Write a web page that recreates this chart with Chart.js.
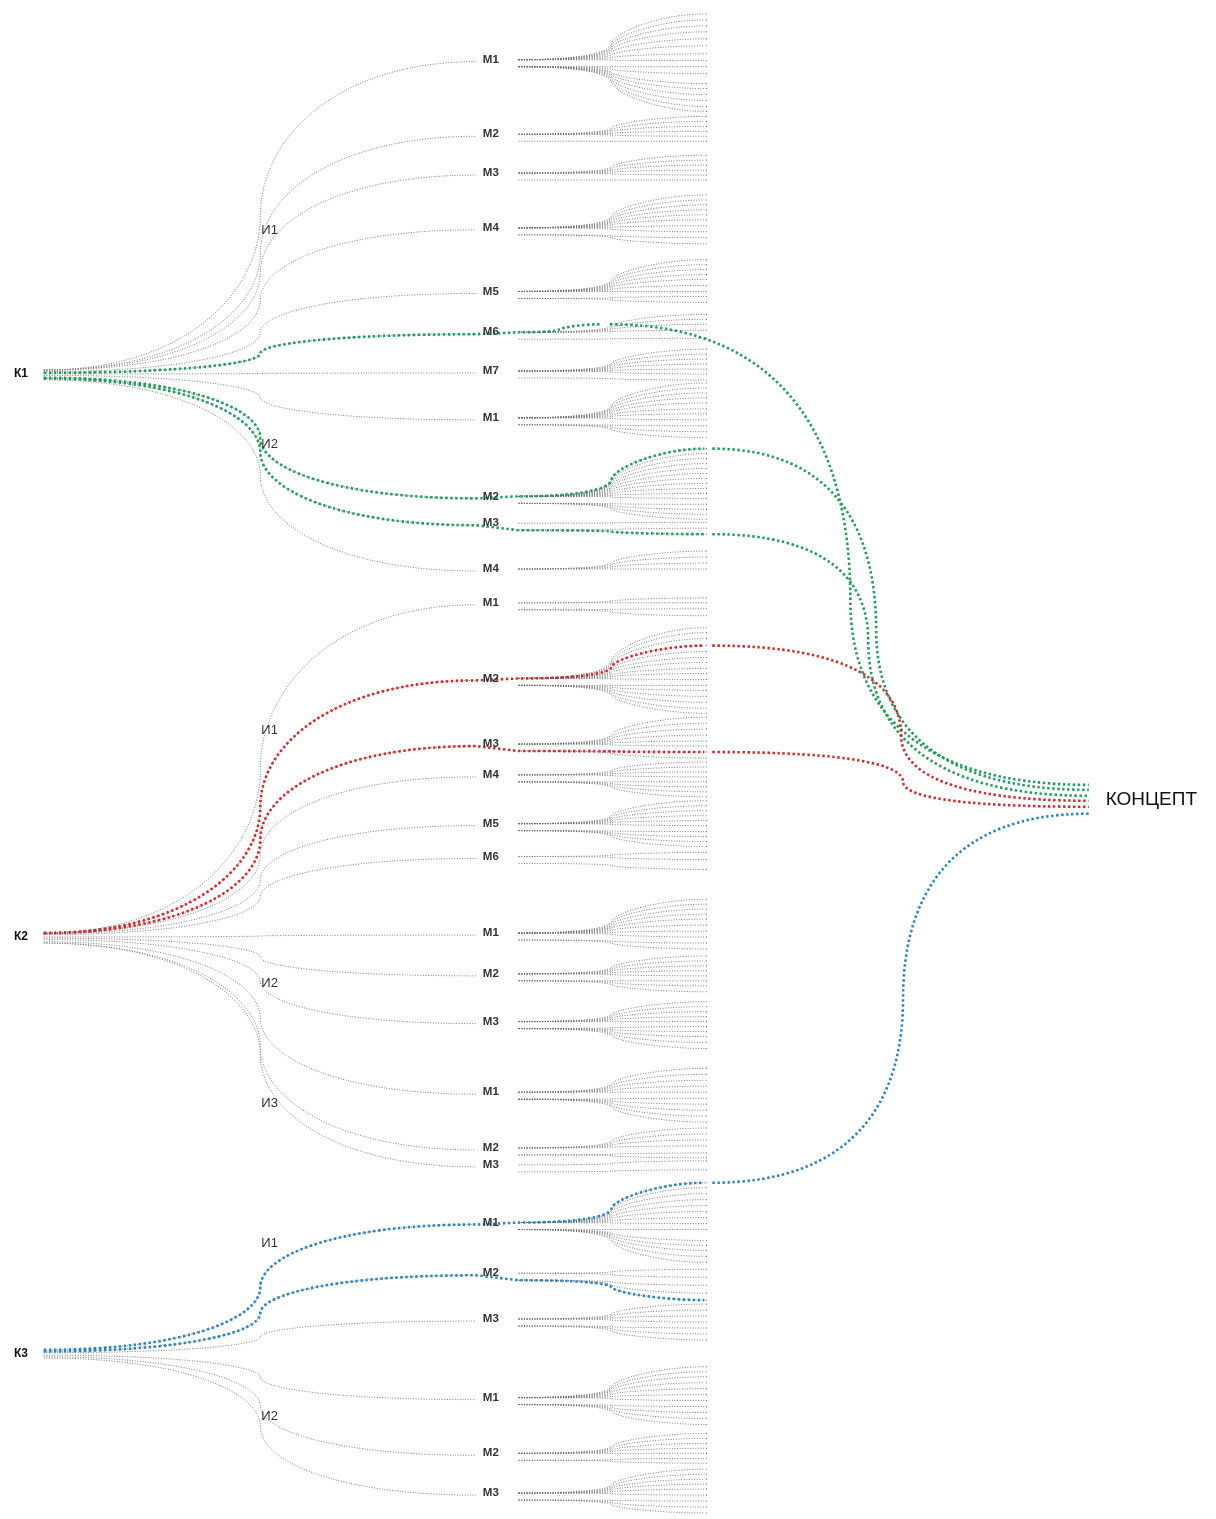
<!DOCTYPE html>
<html>
<head>
<meta charset="utf-8">
<script src="https://cdn.jsdelivr.net/npm/chart.js@4.4.1/dist/chart.umd.min.js"></script>
<style>
  html, body { margin: 0; background: #fff; }
  canvas { display: block; }
</style>
</head>
<body>
<canvas id="tree" width="1216" height="1519"></canvas>
<script>
// top level nodes
const kNames = ['К1', 'К2', 'К3'];
const kY = [372, 938, 1357];

// second level (И), parent = index into kNames
const iNames = ['И1', 'И2', 'И1', 'И2', 'И3', 'И1', 'И2'];
const iParent = [0, 0, 1, 1, 1, 2, 2];
const iY = [228, 443, 730, 985, 1105, 1246, 1420];

// third level (М), parent = index into iNames
const mNames = ['М1', 'М2', 'М3', 'М4', 'М5', 'М6', 'М7',
  'М1', 'М2', 'М3', 'М4',
  'М1', 'М2', 'М3', 'М4', 'М5', 'М6',
  'М1', 'М2', 'М3',
  'М1', 'М2', 'М3',
  'М1', 'М2', 'М3',
  'М1', 'М2', 'М3'];
const mParent = [0, 0, 0, 0, 0, 0, 0, 1, 1, 1, 1, 2, 2, 2, 2, 2, 2, 3, 3, 3, 4, 4, 4, 5, 5, 5, 6, 6, 6];
const mY = [56, 131, 170, 225, 289, 330, 369,
  416, 495, 522, 568,
  602, 678, 744, 775, 824, 857,
  934, 975, 1023,
  1094, 1150, 1167,
  1225, 1276, 1322,
  1401, 1457, 1497];

// leaves of every М (end positions)
const leafY = [
  [10, 16, 22, 28, 35, 42, 50, 57, 63, 70, 80, 85, 91, 97, 103, 108],
  [113, 118, 123, 128, 133, 138],
  [152, 157, 162, 167, 172, 177],
  [192, 197, 202, 207, 212, 217, 223, 229, 235, 241],
  [257, 262, 267, 272, 277, 283, 289, 294, 300],
  [312, 317, 322, 328, 336],
  [347, 352, 357, 362, 367, 372, 378],
  [381, 386, 391, 396, 401, 407, 412, 418, 424, 430, 436],
  [447, 452, 457, 462, 467, 472, 477, 482, 487, 492, 497, 503, 508, 513, 518],
  [521, 527, 533],
  [550, 556, 562, 568],
  [597, 602, 608, 615],
  [627, 632, 638, 645, 651, 657, 662, 668, 673, 679, 685, 690, 696, 702, 708, 713],
  [717, 723, 729, 735, 741, 746, 752, 758],
  [762, 767, 772, 777, 782, 787, 792, 797],
  [801, 806, 811, 816, 821, 826, 832, 837, 842, 847],
  [853, 860, 870],
  [900, 905, 910, 915, 920, 926, 932, 938, 944, 950],
  [957, 962, 967, 972, 977, 982, 987, 993],
  [1003, 1008, 1013, 1018, 1023, 1028, 1033, 1038, 1044, 1050],
  [1070, 1076, 1082, 1088, 1094, 1100, 1106, 1112, 1118, 1124],
  [1130, 1136, 1142, 1148, 1155, 1160],
  [1163, 1172],
  [1185, 1190, 1196, 1202, 1208, 1214, 1220, 1226, 1232, 1243, 1248, 1253, 1259, 1265],
  [1272, 1280, 1288, 1296, 1303],
  [1307, 1313, 1319, 1325, 1331, 1337, 1343],
  [1370, 1375, 1380, 1386, 1392, 1398, 1404, 1410, 1416, 1422, 1428],
  [1437, 1442, 1447, 1452, 1457, 1462, 1467],
  [1473, 1478, 1483, 1488, 1493, 1499, 1505, 1511, 1517]
];

// highlighted chains: М index, chosen leaf, end row at КОНЦЕПТ (null = stops at leaf)
const conceptLabel = 'КОНЦЕПТ';
const conceptY = 800;
const pathM = [5, 8, 9, 12, 13, 23, 24];
const pathLeaf = [322, 447, 533, 645, 752, 1185, 1303];
const pathEnd = [785, 790, 796, 801, 807, 814, null];

// styling / layout
const pathColors = ['#1e9e58', '#1e9e58', '#1e9e58', '#d8262b', '#d8262b', '#2a83c2', '#2a83c2'];
const fanEnd = [600, 705, 705, 705, 705, 705, 705];
const tailBend = [852, 878, 870, 903, 905, 905, 0];
const tailMid = [600, 630, 640, 735, 782, 1000, 0];
const X_K = 40, X_I = 258, X_M = 475, X_FAN = 518, X_LEAF = 705, X_CONCEPT = 1092;

function linkSegs(m) {
  const k = iParent[mParent[m]];
  const y0 = kY[k] + Math.max(-4, Math.min(6, (mY[m] - kY[k]) * 0.03));
  const y1 = mY[m] + 2;
  const yI = y0 + 0.5 * (y1 - y0);
  return [
    [[X_K, y0], [X_K + 0.65 * (X_I - X_K), y0], [X_I, y0 + 0.5 * (yI - y0)], [X_I, yI]],
    [[X_I, yI], [X_I, yI + 0.5 * (y1 - yI)], [X_I + 0.35 * (X_M - X_I), y1], [X_M, y1]]
  ];
}

function fanStart(m, ly) {
  return ly <= mY[m] + 4 ? mY[m] : mY[m] + 7;
}

function fanSegs(m, ly, x1) {
  const ys = fanStart(m, ly);
  const d = ly - ys;
  const xb = X_FAN + 0.5 * (x1 - X_FAN);
  return [
    [[X_FAN, ys], [X_FAN + 0.6 * (xb - X_FAN), ys], [xb - 3, ys + 0.12 * d], [xb, ys + 0.35 * d]],
    [[xb, ys + 0.35 * d], [xb + 3, ys + 0.62 * d], [xb + 0.55 * (x1 - xb), ly], [x1, ly]]
  ];
}

function tailSegs(i, tx) {
  const ly = pathLeaf[i], end = pathEnd[i];
  const bx = tailBend[i], my = tailMid[i];
  return [
    [[tx, ly], [tx + 0.75 * (bx - tx), ly], [bx, ly + 0.45 * (my - ly)], [bx, my]],
    [[bx, my], [bx, my + 0.55 * (end - my)], [bx + 0.25 * (X_CONCEPT - bx), end], [X_CONCEPT, end]]
  ];
}

function strokeSegs(chart, segs) {
  const { ctx, scales: { x, y } } = chart;
  const p = q => [x.getPixelForValue(q[0]), y.getPixelForValue(q[1])];
  ctx.beginPath();
  segs.forEach((s, i) => {
    const a = p(s[0]);
    if (i === 0) ctx.moveTo(a[0], a[1]);
    if (s.length === 2) {
      const b = p(s[1]);
      ctx.lineTo(b[0], b[1]);
    } else {
      const c1 = p(s[1]), c2 = p(s[2]), e = p(s[3]);
      ctx.bezierCurveTo(c1[0], c1[1], c2[0], c2[1], e[0], e[1]);
    }
  });
  ctx.stroke();
}

const treePlugin = {
  id: 'tree',
  beforeDatasetsDraw(chart) {
    const ctx = chart.ctx;
    ctx.save();
    ctx.strokeStyle = 'rgba(105,105,105,0.85)';
    ctx.lineWidth = 1;
    ctx.setLineDash([1, 1.6]);
    mY.forEach((_, m) => {
      strokeSegs(chart, linkSegs(m));
      leafY[m].forEach(ly => strokeSegs(chart, fanSegs(m, ly, X_LEAF)));
    });
    ctx.restore();
  },
  afterDatasetsDraw(chart) {
    const { ctx, scales: { x, y } } = chart;
    ctx.save();
    ctx.lineWidth = 2.6;
    ctx.setLineDash([2.4, 2.6]);
    pathM.forEach((m, i) => {
      ctx.strokeStyle = pathColors[i];
      const ly = pathLeaf[i];
      const segs = linkSegs(m);
      segs.push([[X_M, mY[m] + 2], [X_FAN, fanStart(m, ly)]]);
      fanSegs(m, ly, fanEnd[i]).forEach(s => segs.push(s));
      strokeSegs(chart, segs);
      if (pathEnd[i] !== null) {
        const tx = fanEnd[i] + (fanEnd[i] < X_LEAF ? 10 : 8);
        strokeSegs(chart, tailSegs(i, tx));
      }
    });
    ctx.restore();

    // labels
    ctx.save();
    ctx.textBaseline = 'middle';
    ctx.textAlign = 'left';
    ctx.fillStyle = '#111';
    ctx.font = 'bold 12px "Liberation Sans", Arial, sans-serif';
    kNames.forEach((t, k) => ctx.fillText(t, x.getPixelForValue(10), y.getPixelForValue(kY[k])));
    ctx.fillStyle = '#333';
    ctx.font = '13px "Liberation Sans", sans-serif';
    iNames.forEach((t, i) => ctx.fillText(t, x.getPixelForValue(259), y.getPixelForValue(iY[i])));
    ctx.fillStyle = '#333';
    ctx.font = 'bold 11.5px "Liberation Sans", sans-serif';
    mNames.forEach((t, m) => ctx.fillText(t, x.getPixelForValue(482), y.getPixelForValue(mY[m])));
    ctx.fillStyle = '#111';
    ctx.font = '19px "Liberation Sans", sans-serif';
    ctx.fillText(conceptLabel, x.getPixelForValue(1109), y.getPixelForValue(conceptY));
    ctx.restore();
  }
};

new Chart(document.getElementById('tree'), {
  type: 'scatter',
  data: {
    datasets: [{
      label: 'leaves',
      data: leafY.flat().map(v => ({ x: X_LEAF + 2, y: v })),
      pointStyle: 'rect',
      pointRadius: 0.8,
      backgroundColor: '#777',
      borderWidth: 0
    }]
  },
  options: {
    responsive: false,
    animation: false,
    events: [],
    layout: { padding: 0 },
    scales: {
      x: { type: 'linear', min: 0, max: 1216, display: false },
      y: { type: 'linear', min: 0, max: 1519, reverse: true, display: false }
    },
    plugins: { legend: { display: false }, tooltip: { enabled: false } }
  },
  plugins: [treePlugin]
});
</script>
</body>
</html>
